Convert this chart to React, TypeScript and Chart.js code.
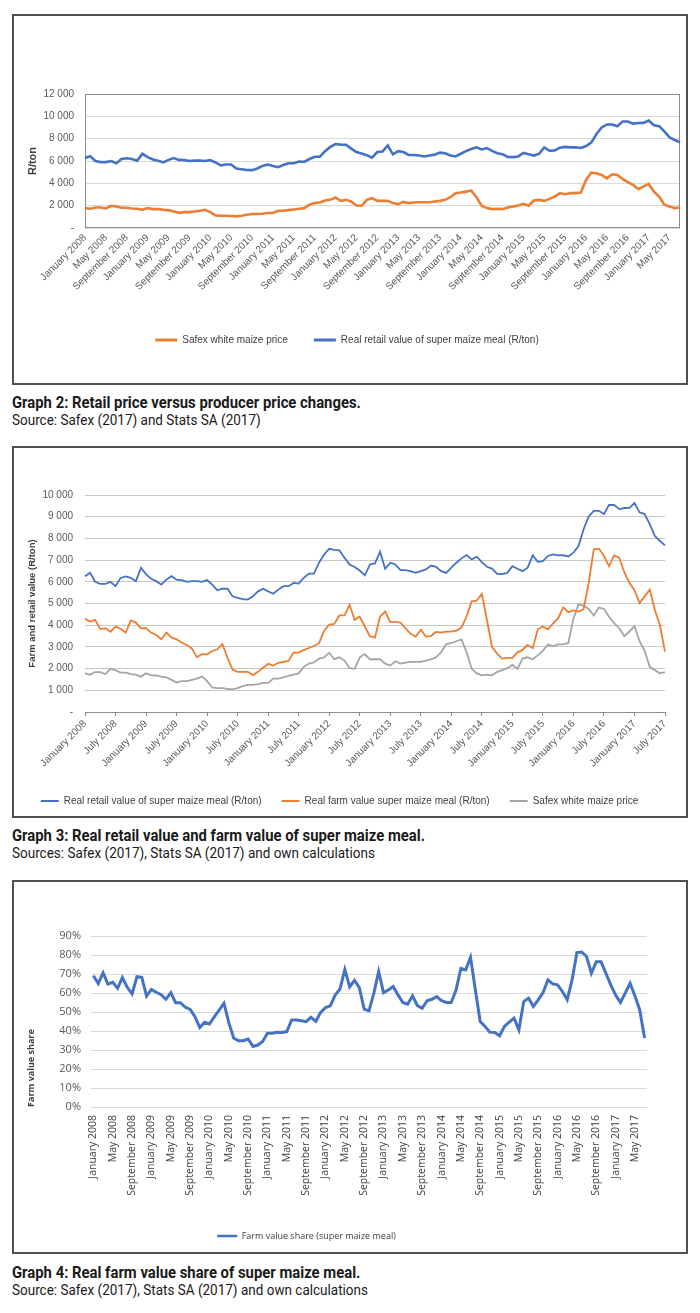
import React, { useEffect, useRef } from "react";
import { Chart, registerables } from "chart.js";

Chart.register(...registerables);

// ---------- categories ----------
const MONTH_NAMES = ["January", "February", "March", "April", "May", "June", "July", "August", "September", "October", "November", "December"];
const FIRST_YEAR = 2008;
const MONTH_COUNT = 115; // January 2008 .. July 2017
const CATEGORIES: string[] = Array.from({ length: MONTH_COUNT }, (_, i) => `${MONTH_NAMES[i % 12]} ${FIRST_YEAR + Math.floor(i / 12)}`);

// ---------- series (R/ton) ----------
const RETAIL_VALUE = [
  6260, 6420, 6000, 5900, 5900, 6000, 5800, 6180, 6250, 6180,
  6030, 6640, 6340, 6140, 6030, 5870, 6100, 6260, 6100, 6080,
  6000, 6030, 6030, 6000, 6080, 5870, 5610, 5680, 5680, 5330,
  5260, 5200, 5180, 5330, 5560, 5680, 5560, 5450, 5640, 5800,
  5800, 5950, 5920, 6180, 6380, 6380, 6880, 7260, 7520, 7470,
  7450, 7110, 6800, 6680, 6520, 6300, 6800, 6850, 7390, 6600,
  6880, 6800, 6540, 6540, 6490, 6410, 6490, 6570, 6750, 6690,
  6490, 6410, 6650, 6880, 7080, 7230, 7030, 7160, 6910, 6690,
  6610, 6370, 6350, 6410, 6720, 6600, 6490, 6650, 7220, 6920,
  6950, 7190, 7260, 7220, 7230, 7170, 7340, 7650, 8420, 9010,
  9270, 9270, 9120, 9540, 9540, 9350, 9400, 9410, 9630, 9200,
  9120, 8660, 8110, 7880, 7680,
];

const FARM_VALUE = [
  4290, 4170, 4250, 3820, 3860, 3700, 3940, 3830, 3660, 4220,
  4120, 3860, 3860, 3660, 3550, 3350, 3660, 3440, 3350, 3200,
  3090, 2930, 2520, 2670, 2660, 2810, 2890, 3140, 2500, 1960,
  1850, 1850, 1850, 1700, 1850, 2040, 2220, 2140, 2270, 2310,
  2350, 2740, 2740, 2850, 2950, 3040, 3170, 3750, 4030, 4060,
  4450, 4450, 4940, 4250, 4400, 3940, 3480, 3440, 4400, 4630,
  4150, 4150, 4120, 3860, 3600, 3480, 3790, 3480, 3500, 3690,
  3660, 3700, 3700, 3750, 3890, 4400, 5100, 5130, 5440, 4250,
  2990, 2690, 2460, 2490, 2490, 2750, 2860, 3090, 2940, 3810,
  3940, 3810, 4090, 4320, 4820, 4600, 4680, 4630, 4740, 5950,
  7500, 7530, 7190, 6720, 7220, 7110, 6440, 5950, 5610, 5020,
  5330, 5640, 4710, 4010, 2780,
];

const SAFEX_PRICE = [
  1780, 1720, 1840, 1840, 1750, 1990, 1930, 1810, 1810, 1750,
  1720, 1630, 1780, 1690, 1690, 1630, 1600, 1480, 1360, 1420,
  1420, 1480, 1540, 1630, 1420, 1130, 1100, 1100, 1070, 1040,
  1100, 1190, 1250, 1250, 1280, 1340, 1340, 1540, 1540, 1600,
  1660, 1720, 1780, 2080, 2230, 2280, 2460, 2520, 2730, 2430,
  2520, 2370, 2020, 1990, 2520, 2670, 2430, 2430, 2430, 2230,
  2140, 2340, 2230, 2280, 2310, 2310, 2310, 2370, 2430, 2520,
  2760, 3120, 3180, 3260, 3350, 2760, 1990, 1780, 1690, 1720,
  1690, 1840, 1930, 2020, 2170, 1990, 2460, 2520, 2430, 2610,
  2820, 3120, 3030, 3120, 3120, 3180, 4300, 4960, 4900, 4750,
  4450, 4810, 4750, 4390, 4100, 3860, 3500, 3710, 3950, 3260,
  2820, 2080, 1930, 1780, 1840,
];

// ---------- farm value share (%) ----------
const FARM_SHARE = [
  69.1, 65.0, 70.7, 64.7, 65.6, 62.5, 68.1, 63.0, 59.5, 68.6,
  68.2, 58.4, 61.9, 60.4, 59.1, 56.7, 60.2, 54.9, 54.9, 52.5,
  51.4, 47.5, 41.8, 44.6, 43.7, 47.5, 51.0, 54.6, 44.4, 36.3,
  34.9, 34.9, 35.8, 31.9, 32.6, 34.5, 38.8, 38.8, 39.3, 39.2,
  39.7, 45.8, 45.8, 45.4, 44.9, 47.2, 45.1, 49.8, 52.3, 53.2,
  58.9, 62.1, 72.4, 63.2, 66.7, 62.8, 51.5, 50.6, 59.9, 71.3,
  60.2, 61.6, 63.4, 59.0, 55.0, 54.1, 58.5, 53.4, 52.0, 55.9,
  56.7, 58.1, 56.0, 55.0, 55.0, 61.6, 73.0, 72.2, 78.8, 61.6,
  45.0, 42.4, 39.4, 39.2, 37.5, 42.4, 44.7, 46.8, 40.6, 55.5,
  57.3, 52.9, 56.4, 60.2, 66.9, 64.8, 64.3, 60.8, 56.4, 66.9,
  81.3, 81.6, 79.2, 70.4, 76.4, 76.4, 70.4, 64.3, 59.0, 55.0,
  59.9, 65.1, 58.5, 51.1, 36.3,
];

// ---------- axis settings ----------
const G2_Y = { min: 0, max: 12000, step: 2000 };
const G3_Y = { min: 0, max: 10000, step: 1000 };
const G4_Y = { min: 0, max: 90, step: 10 };
const G2_LABEL_EVERY = 4;
const G3_LABEL_EVERY = 6;
const G4_LABEL_EVERY = 4;

// ---------- styles ----------
const BLUE = "#4472C4";
const ORANGE = "#ED7D31";
const GRAY = "#A5A5A5";
const ARIAL = '"Liberation Sans", Arial, sans-serif';
const CALIBRI = '"Open Sans", "Noto Sans", sans-serif';
const CAPTION_FONT = 'Roboto, "Liberation Sans", sans-serif';

const fmtRand = (v: number) => (v === 0 ? "-" : String(v).replace(/\B(?=(\d{3})+(?!\d))/g, " "));

const lineLegendLabels = (chart: any) =>
  (Chart.defaults as any).plugins.legend.labels
    .generateLabels(chart)
    .map((l: any) => ({ ...l, fillStyle: l.strokeStyle, lineWidth: 0 }));

const everyNth = (n: number) => (scale: any) => {
  scale.ticks = scale.ticks.filter((t: any) => t.value % n === 0);
};

const plotFrame = {
  id: "plotFrame",
  beforeDatasetsDraw(chart: any) {
    const { ctx, chartArea: a } = chart;
    ctx.save();
    ctx.strokeStyle = "#8c8c8c";
    ctx.lineWidth = 1;
    ctx.strokeRect(Math.round(a.left) + 0.5, Math.round(a.top) + 0.5, Math.round(a.width) - 1, Math.round(a.height) - 1);
    ctx.restore();
  },
};

const legendShift = (dx: number) => ({
  id: "legendShift",
  afterLayout(chart: any) {
    if (chart.legend) {
      chart.legend.left += dx;
      chart.legend.right += dx;
    }
  },
});

const lineDs = (label: string, data: number[], color: string, width: number) => ({
  label,
  data,
  borderColor: color,
  backgroundColor: color,
  borderWidth: width,
  pointRadius: 0,
  pointHoverRadius: 0,
  tension: 0,
  fill: false,
});

// ---------- chart builders ----------
function buildGraph2(): any {
  return {
    type: "line",
    data: {
      labels: CATEGORIES,
      datasets: [
        lineDs("Safex white maize price", SAFEX_PRICE, ORANGE, 2.6),
        lineDs("Real retail value of super maize meal (R/ton)", RETAIL_VALUE, BLUE, 2.6),
      ],
    },
    options: {
      responsive: false,
      animation: false,
      layout: { padding: { top: 78, right: 6, bottom: 28, left: 0 } },
      plugins: {
        legend: {
          position: "bottom",
          labels: { boxWidth: 22, boxHeight: 3, padding: 26, color: "#404040", font: { family: ARIAL, size: 10 }, generateLabels: lineLegendLabels },
        },
        tooltip: { enabled: false },
      },
      scales: {
        x: {
          type: "category",
          offset: false,
          grid: { display: false, drawTicks: false },
          border: { display: false },
          afterBuildTicks: everyNth(G2_LABEL_EVERY),
          afterFit: (s: any) => { s.height = 81; },
          ticks: {
            autoSkip: false, minRotation: 45, maxRotation: 45, padding: 4,
            color: "#595959", font: { family: ARIAL, size: 10 },
            callback: (v: any) => CATEGORIES[v],
          },
        },
        y: {
          min: G2_Y.min, max: G2_Y.max,
          grid: { color: "#d9d9d9", lineWidth: 1, drawTicks: false },
          border: { display: false },
          afterFit: (s: any) => { s.width = 71; },
          title: { display: true, text: "R/ton", color: "#404040", font: { family: ARIAL, size: 11, weight: "bold" }, padding: { top: 12, bottom: 0 } },
          ticks: { stepSize: G2_Y.step, padding: 11, color: "#595959", font: { family: ARIAL, size: 10 }, callback: (v: any) => fmtRand(Number(v)) },
        },
      },
    },
    plugins: [plotFrame],
  };
}

function buildGraph3(): any {
  return {
    type: "line",
    data: {
      labels: CATEGORIES,
      datasets: [
        lineDs("Real retail value of super maize meal (R/ton)", RETAIL_VALUE, BLUE, 1.8),
        lineDs("Real farm value super maize meal (R/ton)", FARM_VALUE, ORANGE, 1.8),
        lineDs("Safex white maize price", SAFEX_PRICE, GRAY, 1.8),
      ],
    },
    options: {
      responsive: false,
      animation: false,
      layout: { padding: { top: 47, right: 21, bottom: 0, left: 0 } },
      plugins: {
        legend: {
          position: "bottom",
          labels: { boxWidth: 18, boxHeight: 2, padding: 20, color: "#404040", font: { family: ARIAL, size: 10 }, generateLabels: lineLegendLabels },
        },
        tooltip: { enabled: false },
      },
      scales: {
        x: {
          type: "category",
          offset: false,
          grid: { display: true, drawOnChartArea: false, drawTicks: true, tickLength: 4, color: "#8c8c8c" },
          border: { display: true, color: "#8c8c8c" },
          afterBuildTicks: everyNth(G3_LABEL_EVERY),
          afterFit: (s: any) => { s.height = 64; },
          ticks: {
            autoSkip: false, minRotation: 45, maxRotation: 45, padding: 2,
            color: "#595959", font: { family: ARIAL, size: 10 },
            callback: (v: any) => CATEGORIES[v],
          },
        },
        y: {
          min: G3_Y.min, max: G3_Y.max,
          grid: { color: "#c8c8c8", lineWidth: 1, drawTicks: false },
          border: { display: false },
          afterFit: (s: any) => { s.width = 71; },
          title: { display: true, text: "Farm and retail value (R/ton)", color: "#404040", font: { family: ARIAL, size: 9.5, weight: "bold" }, padding: { top: 13, bottom: 0 } },
          ticks: { stepSize: G3_Y.step, padding: 12, color: "#595959", font: { family: ARIAL, size: 10 }, callback: (v: any) => fmtRand(Number(v)) },
        },
      },
    },
  };
}

function buildGraph4(): any {
  return {
    type: "line",
    data: {
      labels: CATEGORIES,
      datasets: [lineDs("Farm value share (super maize meal)", FARM_SHARE, BLUE, 3)],
    },
    options: {
      responsive: false,
      animation: false,
      layout: { padding: { top: 54, right: 39, bottom: 1.5, left: 0 } },
      plugins: {
        legend: {
          position: "bottom",
          labels: { boxWidth: 20, boxHeight: 2.5, padding: 10, color: "#404040", font: { family: CALIBRI, size: 9 }, generateLabels: lineLegendLabels },
        },
        tooltip: { enabled: false },
      },
      scales: {
        x: {
          type: "category",
          offset: true,
          grid: { display: false, drawTicks: false },
          border: { display: false },
          afterBuildTicks: everyNth(G4_LABEL_EVERY),
          afterFit: (s: any) => { s.height = 114.5; },
          ticks: {
            autoSkip: false, minRotation: 90, maxRotation: 90, padding: 8,
            color: "#404040", font: { family: CALIBRI, size: 10.5 },
            callback: (v: any) => CATEGORIES[v],
          },
        },
        y: {
          min: G4_Y.min, max: G4_Y.max,
          grid: { color: "#d9d9d9", lineWidth: 1, drawTicks: false },
          border: { display: false },
          afterFit: (s: any) => { s.width = 77; },
          title: { display: true, text: "Farm value share", align: "start", color: "#404040", font: { family: CALIBRI, size: 9, weight: "bold" }, padding: { top: 12, bottom: 0 } },
          ticks: { stepSize: G4_Y.step, padding: 10, color: "#595959", font: { family: CALIBRI, size: 11 }, callback: (v: any) => `${v}%` },
        },
      },
    },
    plugins: [legendShift(-24)],
  };
}

// ---------- components ----------
function ChartCanvas({ x, y, w, h, build }: { x: number; y: number; w: number; h: number; build: () => any }) {
  const ref = useRef<HTMLCanvasElement>(null);
  useEffect(() => {
    if (!ref.current) return;
    const chart = new Chart(ref.current, build());
    return () => chart.destroy();
  }, [build]);
  return <canvas ref={ref} width={w} height={h} style={{ position: "absolute", left: x, top: y, width: w, height: h }} />;
}

function Frame({ x, y, w, h }: { x: number; y: number; w: number; h: number }) {
  return <div style={{ position: "absolute", left: x, top: y, width: w, height: h, boxSizing: "border-box", border: "2px solid #505050" }} />;
}

function Caption({ y, title, source }: { y: number; title: string; source: string }) {
  return (
    <>
      <div style={{ position: "absolute", left: 12, top: y - 1, font: `bold 16.5px ${CAPTION_FONT}`, lineHeight: "19px", color: "#1a1a1a", whiteSpace: "nowrap", transform: "scaleX(0.9)", transformOrigin: "0 0" }}>{title}</div>
      <div style={{ position: "absolute", left: 12, top: y + 17, font: `15px ${CAPTION_FONT}`, lineHeight: "18px", color: "#1a1a1a", whiteSpace: "nowrap", transform: "scaleX(0.9)", transformOrigin: "0 0" }}>{source}</div>
    </>
  );
}

export default function App() {
  return (
    <div style={{ position: "absolute", left: 0, top: 0, width: 700, height: 1313, background: "#ffffff", overflow: "hidden" }}>
      <Frame x={12} y={14} w={676} h={371} />
      <ChartCanvas x={14} y={16} w={672} h={367} build={buildGraph2} />
      <Caption y={394} title="Graph 2: Retail price versus producer price changes." source="Source: Safex (2017) and Stats SA (2017)" />

      <Frame x={12} y={446} w={676} h={372} />
      <ChartCanvas x={14} y={448} w={672} h={368} build={buildGraph3} />
      <Caption y={827} title="Graph 3: Real retail value and farm value of super maize meal." source="Sources: Safex (2017), Stats SA (2017) and own calculations" />

      <Frame x={12} y={880} w={676} h={374} />
      <ChartCanvas x={14} y={882} w={672} h={370} build={buildGraph4} />
      <Caption y={1264} title="Graph 4: Real farm value share of super maize meal." source="Source: Safex (2017), Stats SA (2017) and own calculations" />
    </div>
  );
}
